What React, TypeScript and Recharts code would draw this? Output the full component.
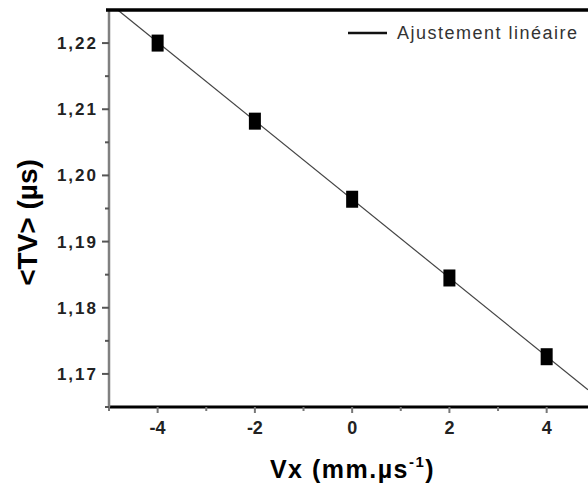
import React from 'react';
import { ScatterChart, Scatter, XAxis, YAxis, Legend } from 'recharts';

const vx = [-4, -2, 0, 2, 4];
const tv = [1.22, 1.2082, 1.1964, 1.1845, 1.1726];
const fitVx = [-4.82, 4.85];
const fitTv = [1.225, 1.1676];
const xTicks = [-5, -4, -3, -2, -1, 0, 1, 2, 3, 4];
const xMajor = [-4, -2, 0, 2, 4];
const yTicks = [1.165, 1.17, 1.175, 1.18, 1.185, 1.19, 1.195, 1.2, 1.205, 1.21, 1.215, 1.22, 1.225];
const yMajor = [1.17, 1.18, 1.19, 1.2, 1.21, 1.22];
const yLabels = ['1,17', '1,18', '1,19', '1,20', '1,21', '1,22'];
const xMin = -5;
const xMax = 4.85;
const yMin = 1.165;
const yTop = 1.225;
const legendLabel = 'Ajustement linéaire';

const points = vx.map((x, i) => ({ vx: x, tv: tv[i] }));
const fit = fitVx.map((x, i) => ({ vx: x, tv: fitTv[i] }));

const FONT = '"Liberation Sans", Arial, sans-serif';
const CHART_W = 588;
const CHART_H = 488;
const MARGIN_TOP = 10;
const Y_AXIS_W = 109;

const XTick = (props: any) => {
  const { x, y, payload } = props;
  const major = xMajor.some((m) => Math.abs(m - payload.value) < 1e-6);
  return (
    <g>
      <line x1={x} x2={x} y1={y} y2={y + (major ? 6 : 4)} stroke="#777" strokeWidth={2} />
      {major && (
        <text x={x} y={y + 27} textAnchor="middle" fontFamily={FONT} fontWeight="bold" fontSize={18} fill="#222">
          {String(payload.value)}
        </text>
      )}
    </g>
  );
};

const YTick = (props: any) => {
  const { x, y, payload } = props;
  if (Math.abs(payload.value - yTop) < 1e-6) {
    return <line x1={x - 3} x2={CHART_W} y1={y} y2={y} stroke="#000" strokeWidth={3} />;
  }
  const idx = yMajor.findIndex((m) => Math.abs(m - payload.value) < 1e-6);
  const major = idx >= 0;
  return (
    <g>
      <line x1={x - (major ? 7 : 4)} x2={x} y1={y} y2={y} stroke="#555" strokeWidth={2} />
      {major && (
        <text x={x - 11} y={y + 6} textAnchor="end" fontFamily={FONT} fontWeight="bold" fontSize={17} letterSpacing={2} fill="#222">
          {yLabels[idx]}
        </text>
      )}
    </g>
  );
};

const Square = (props: any) => {
  const { cx, cy } = props;
  return <rect x={cx - 6} y={cy - 8.5} width={12} height={17} fill="#000" />;
};

const Empty = () => <g />;

const renderLegend = () => (
  <svg width={CHART_W} height={50} style={{ position: 'absolute', left: 0, top: 0, overflow: 'visible' }}>
    {/* top frame of the plot box */}
    <line x1={Y_AXIS_W - 3} x2={CHART_W} y1={MARGIN_TOP} y2={MARGIN_TOP} stroke="#000" strokeWidth={3} />
    <line x1={348} x2={387} y1={33} y2={33} stroke="#111" strokeWidth={2.5} />
    <text x={397} y={39} fontFamily={FONT} fontSize={18} letterSpacing={1.5} fill="#333">
      {legendLabel}
    </text>
  </svg>
);

export default function App() {
  return (
    <div style={{ position: 'absolute', left: 0, top: 0, width: CHART_W, height: CHART_H, background: '#fff' }}>
      <ScatterChart width={CHART_W} height={CHART_H} margin={{ top: MARGIN_TOP, right: 0, bottom: 0, left: 0 }}>
        <XAxis
          type="number"
          dataKey="vx"
          domain={[xMin, xMax]}
          ticks={xTicks}
          interval={0}
          height={81}
          tickSize={0}
          tickMargin={0}
          tickLine={false}
          tick={<XTick />}
          axisLine={{ stroke: '#000', strokeWidth: 3 }}
          label={(p: any) => {
            const vb = p.viewBox || { x: 109, y: 407, width: 479 };
            return (
              <text x={vb.x + vb.width / 2 + 4} y={vb.y + 71} textAnchor="middle" fontFamily={FONT} fontWeight="bold" fontSize={25} letterSpacing={1.5} fill="#000">
                <tspan>Vx (mm.µs</tspan>
                <tspan dy={-11} fontSize={15}>-1</tspan>
                <tspan dy={11}>)</tspan>
              </text>
            );
          }}
        />
        <YAxis
          type="number"
          dataKey="tv"
          domain={[yMin, yTop]}
          ticks={yTicks}
          interval={0}
          width={Y_AXIS_W}
          tickSize={0}
          tickMargin={0}
          tickLine={false}
          tick={<YTick />}
          axisLine={{ stroke: '#808080', strokeWidth: 2.5 }}
          label={(p: any) => {
            const vb = p.viewBox || { x: 0, y: 10, height: 397 };
            const cx = 37;
            const cy = vb.y + vb.height / 2 + 14;
            return (
              <text x={cx} y={cy} transform={`rotate(-90, ${cx}, ${cy})`} textAnchor="middle" fontFamily={FONT} fontWeight="bold" fontSize={28} fill="#000">
                {'<TV> (µs)'}
              </text>
            );
          }}
        />
        <Legend content={renderLegend} wrapperStyle={{ left: 0, top: 0, width: 0, height: 0 }} />
        <Scatter
          name={legendLabel}
          data={fit}
          line={{ stroke: '#444', strokeWidth: 1.2 }}
          shape={<Empty />}
          isAnimationActive={false}
        />
        <Scatter name="TV" data={points} shape={<Square />} fill="#000" isAnimationActive={false} legendType="none" />
      </ScatterChart>
    </div>
  );
}
